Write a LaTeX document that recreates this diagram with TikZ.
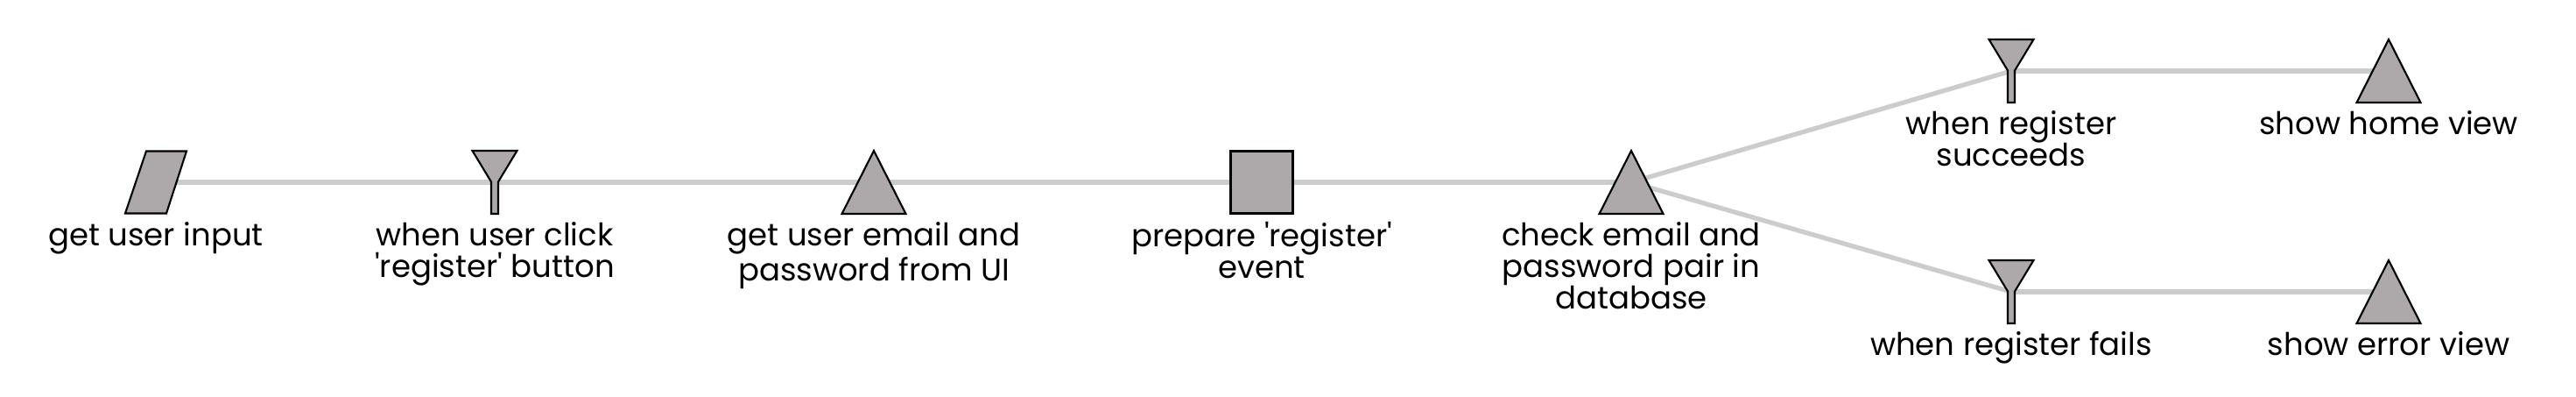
\documentclass[tikz,border=0pt]{standalone}
\usepackage{fontspec}
\setmainfont{Poppins}[Ligatures=TeXOff]
\usetikzlibrary{positioning, backgrounds}
\definecolor{glyphgray}{RGB}{173,168,170}
\definecolor{wiregray}{RGB}{204,204,204}

\begin{document}
\begin{tikzpicture}[node distance=1cm,
    stage/.style={rectangle, minimum width=0.8cm, minimum height=0.8cm, inner sep=0pt, on grid},
    glyph/.style={draw=black, fill=glyphgray, line width=0.6pt},
    source/.style={stage, path picture={\draw[glyph, shift={(path picture bounding box.center)}]
        (-0.35,-0.355) -- (0.12,-0.355) -- (0.35,0.355) -- (-0.11,0.355) -- cycle;}},
    trigger/.style={stage, path picture={\draw[glyph, shift={(path picture bounding box.center)}]
        (-0.255,0.36) -- (0.255,0.36) -- (0.04,0.005) -- (0.04,-0.36) -- (-0.04,-0.36) -- (-0.04,0.005) -- cycle;}},
    action/.style={stage, path picture={\draw[glyph, shift={(path picture bounding box.center)}]
        (0,0.36) -- (0.365,-0.36) -- (-0.365,-0.36) -- cycle;}},
    event/.style={stage, path picture={\draw[glyph, shift={(path picture bounding box.center)}]
        (-0.355,-0.355) rectangle (0.355,0.355);}},
    wire/.style={draw=wiregray, line width=1.5pt},
    caption/.style={font=\fontsize{10.1}{10.24}\selectfont, align=center, inner sep=0pt}]

    \useasboundingbox (0,0) rectangle (29.42,4.52);

    \node [source] (input) at (1.78,2.44) {};
    \node [trigger, right=3.87cm of input] (click) {};
    \node [action, right=4.33cm of click] (getpw) {};
    \node [event, right=4.43cm of getpw] (prep) {};
    \node [action, right=4.22cm of prep] (check) {};
    \node [trigger, above right=1.27cm and 4.34cm of check] (ok) {};
    \node [trigger, below right=1.25cm and 4.34cm of check] (fail) {};
    \node [action, right=4.31cm of ok] (home) {};
    \node [action, right=4.31cm of fail] (error) {};

    \node [caption, below=0.04cm of input] (inputT) {get user input};
    \node [caption, below=0.04cm of click] (clickT) {when user click\\'register' button};
    \node [caption, below=0.04cm of getpw] (getpwT) {get user email and\\password from UI};
    \node [caption, below=0.04cm of prep] (prepT) {prepare 'register'\\event};
    \node [caption, below=0.04cm of check] (checkT) {check email and\\password pair in\\database};
    \node [caption, below=0.04cm of ok] (okT) {when register\\succeeds};
    \node [caption, below=0.04cm of fail] (failT) {when register fails};
    \node [caption, below=0.04cm of home] (homeT) {show home view};
    \node [caption, below=0.04cm of error] (errorT) {show error view};

    \begin{scope}[on background layer]
        \draw [wire] (input.center) -- (click.center);
        \draw [wire] (click.center) -- (getpw.center);
        \draw [wire] (getpw.center) -- (prep.center);
        \draw [wire] (prep.center) -- (check.center);
        \draw [wire] (check.center) -- (ok.center);
        \draw [wire] (check.center) -- (fail.center);
        \draw [wire] (ok.center) -- (home.center);
        \draw [wire] (fail.center) -- (error.center);
    \end{scope}
\end{tikzpicture}
\end{document}
